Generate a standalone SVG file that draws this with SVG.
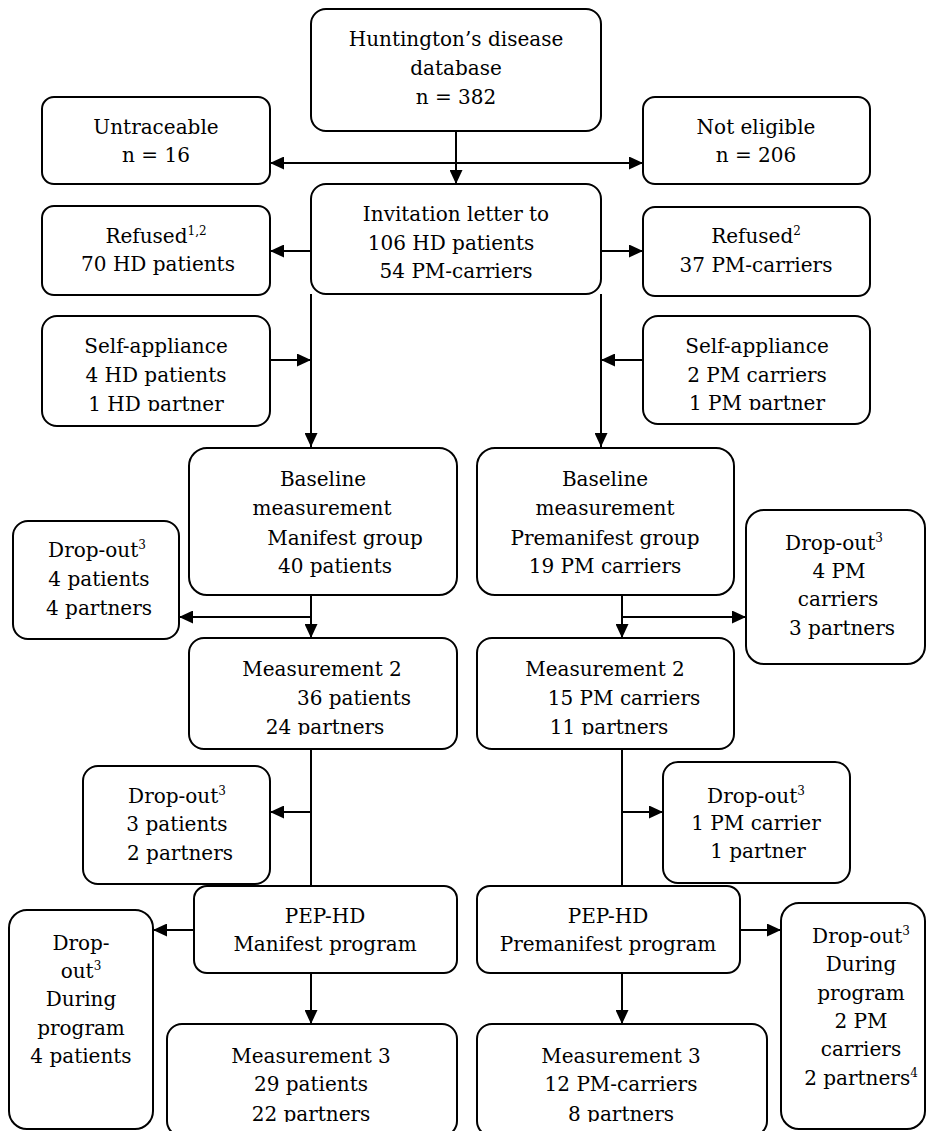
<svg xmlns="http://www.w3.org/2000/svg" width="926" height="1131" viewBox="0 0 926 1131">
<style>
.box{fill:#fff;stroke:#000;stroke-width:2}
.t{font-family:'DejaVu Serif','Liberation Serif',serif;font-size:20px;text-anchor:middle;fill:#000}
.sup{font-size:12px}
.c{fill:none;stroke:#000;stroke-width:2}
</style>
<defs>
<marker id="ah" markerWidth="14" markerHeight="13" refX="14" refY="6.5" orient="auto" markerUnits="userSpaceOnUse"><path d="M0,0 L14,6.5 L0,13 z" fill="#000"/></marker>
<clipPath id="clipSA1"><rect x="0" y="0" width="926" height="411"/></clipPath>
<clipPath id="clipSA2"><rect x="0" y="0" width="926" height="410"/></clipPath>
<clipPath id="clipM2"><rect x="0" y="0" width="926" height="735"/></clipPath>
<clipPath id="clipM3"><rect x="0" y="0" width="926" height="1122"/></clipPath>
</defs>
<rect width="926" height="1131" fill="#fff"/>
<g id="connectors">
<path class="c" d="M456,131 V184" marker-end="url(#ah)"/>
<path class="c" d="M456,163 H270" marker-end="url(#ah)"/>
<path class="c" d="M456,163 H643" marker-end="url(#ah)"/>
<path class="c" d="M311,251 H270" marker-end="url(#ah)"/>
<path class="c" d="M601,251 H643" marker-end="url(#ah)"/>
<path class="c" d="M311,294 V447" marker-end="url(#ah)"/>
<path class="c" d="M270,360 H311" marker-end="url(#ah)"/>
<path class="c" d="M601,294 V447" marker-end="url(#ah)"/>
<path class="c" d="M643,360 H601" marker-end="url(#ah)"/>
<path class="c" d="M311,595 V638" marker-end="url(#ah)"/>
<path class="c" d="M311,617 H179" marker-end="url(#ah)"/>
<path class="c" d="M622,595 V638" marker-end="url(#ah)"/>
<path class="c" d="M622,617 H746" marker-end="url(#ah)"/>
<path class="c" d="M311,749 V886"/>
<path class="c" d="M311,812 H270" marker-end="url(#ah)"/>
<path class="c" d="M622,749 V886"/>
<path class="c" d="M622,812 H663" marker-end="url(#ah)"/>
<path class="c" d="M194,930 H153" marker-end="url(#ah)"/>
<path class="c" d="M740,930 H781" marker-end="url(#ah)"/>
<path class="c" d="M311,973 V1024" marker-end="url(#ah)"/>
<path class="c" d="M622,973 V1024" marker-end="url(#ah)"/>
</g>
<g id="n-database">
<rect class="box" x="311" y="9" width="290" height="122" rx="15"/>
<text class="t" x="456" y="46">Huntington’s disease</text>
<text class="t" x="456" y="75">database</text>
<text class="t" x="456" y="104">n = 382</text>
</g>
<g id="n-untraceable">
<rect class="box" x="42" y="97" width="228" height="87" rx="12"/>
<text class="t" x="156" y="134">Untraceable</text>
<text class="t" x="156" y="162">n = 16</text>
</g>
<g id="n-noteligible">
<rect class="box" x="643" y="97" width="227" height="87" rx="12"/>
<text class="t" x="756" y="134">Not eligible</text>
<text class="t" x="756" y="162">n = 206</text>
</g>
<g id="n-invitation">
<rect class="box" x="311" y="184" width="290" height="110" rx="15"/>
<text class="t" x="456" y="221">Invitation letter to</text>
<text class="t" x="451" y="250">106 HD patients</text>
<text class="t" x="456" y="278">54 PM-carriers</text>
</g>
<g id="n-refused-hd">
<rect class="box" x="42" y="206" width="228" height="89" rx="12"/>
<text class="t" x="156" y="243">Refused<tspan class="sup" dy="-8">1,2</tspan></text>
<text class="t" x="158" y="271">70 HD patients</text>
</g>
<g id="n-refused-pm">
<rect class="box" x="643" y="207" width="227" height="89" rx="12"/>
<text class="t" x="756" y="243">Refused<tspan class="sup" dy="-8">2</tspan></text>
<text class="t" x="756" y="272">37 PM-carriers</text>
</g>
<g id="n-self-hd">
<rect class="box" x="42" y="316" width="228" height="110" rx="15"/>
<g clip-path="url(#clipSA1)">
<text class="t" x="156" y="353">Self-appliance</text>
<text class="t" x="156" y="382">4 HD patients</text>
<text class="t" x="156" y="411">1 HD partner</text>
</g>
</g>
<g id="n-self-pm">
<rect class="box" x="643" y="316" width="227" height="108" rx="15"/>
<g clip-path="url(#clipSA2)">
<text class="t" x="757" y="353">Self-appliance</text>
<text class="t" x="757" y="382">2 PM carriers</text>
<text class="t" x="757" y="410">1 PM partner</text>
</g>
</g>
<g id="n-baseline-man">
<rect class="box" x="189" y="448" width="268" height="147" rx="18"/>
<text class="t" x="323" y="486">Baseline</text>
<text class="t" x="322" y="515">measurement</text>
<text class="t" x="345" y="545">Manifest group</text>
<text class="t" x="335" y="573">40 patients</text>
</g>
<g id="n-baseline-pre">
<rect class="box" x="477" y="448" width="257" height="147" rx="18"/>
<text class="t" x="605" y="486">Baseline</text>
<text class="t" x="605" y="515">measurement</text>
<text class="t" x="605" y="545">Premanifest group</text>
<text class="t" x="605" y="573">19 PM carriers</text>
</g>
<g id="n-dropout1-man">
<rect class="box" x="13" y="521" width="166" height="118" rx="15"/>
<text class="t" x="97" y="557">Drop-out<tspan class="sup" dy="-8">3</tspan></text>
<text class="t" x="99" y="586">4 patients</text>
<text class="t" x="99" y="615">4 partners</text>
</g>
<g id="n-dropout1-pre">
<rect class="box" x="746" y="510" width="179" height="154" rx="18"/>
<text class="t" x="834" y="550">Drop-out<tspan class="sup" dy="-8">3</tspan></text>
<text class="t" x="839" y="578">4 PM</text>
<text class="t" x="838" y="606">carriers</text>
<text class="t" x="842" y="635">3 partners</text>
</g>
<g id="n-m2-man">
<rect class="box" x="189" y="638" width="268" height="111" rx="15"/>
<g clip-path="url(#clipM2)">
<text class="t" x="322" y="676">Measurement 2</text>
<text class="t" x="354" y="705">36 patients</text>
<text class="t" x="325" y="734">24 partners</text>
</g>
</g>
<g id="n-m2-pre">
<rect class="box" x="477" y="638" width="257" height="111" rx="15"/>
<g clip-path="url(#clipM2)">
<text class="t" x="605" y="676">Measurement 2</text>
<text class="t" x="624" y="705">15 PM carriers</text>
<text class="t" x="609" y="734">11 partners</text>
</g>
</g>
<g id="n-dropout2-man">
<rect class="box" x="83" y="766" width="187" height="118" rx="15"/>
<text class="t" x="177" y="803">Drop-out<tspan class="sup" dy="-8">3</tspan></text>
<text class="t" x="177" y="831">3 patients</text>
<text class="t" x="180" y="860">2 partners</text>
</g>
<g id="n-dropout2-pre">
<rect class="box" x="663" y="762" width="187" height="121" rx="15"/>
<text class="t" x="756" y="803">Drop-out<tspan class="sup" dy="-8">3</tspan></text>
<text class="t" x="756" y="830">1 PM carrier</text>
<text class="t" x="758" y="858">1 partner</text>
</g>
<g id="n-pep-man">
<rect class="box" x="194" y="886" width="263" height="87" rx="13"/>
<text class="t" x="325" y="923">PEP-HD</text>
<text class="t" x="325" y="951">Manifest program</text>
</g>
<g id="n-pep-pre">
<rect class="box" x="477" y="886" width="263" height="87" rx="13"/>
<text class="t" x="608" y="923">PEP-HD</text>
<text class="t" x="608" y="951">Premanifest program</text>
</g>
<g id="n-dropout3-man">
<rect class="box" x="9" y="910" width="144" height="219" rx="18"/>
<text class="t" x="81" y="950">Drop-</text>
<text class="t" x="81" y="978">out<tspan class="sup" dy="-8">3</tspan></text>
<text class="t" x="81" y="1006">During</text>
<text class="t" x="81" y="1035">program</text>
<text class="t" x="81" y="1063">4 patients</text>
</g>
<g id="n-dropout3-pre">
<rect class="box" x="781" y="903" width="144" height="226" rx="18"/>
<text class="t" x="861" y="943">Drop-out<tspan class="sup" dy="-8">3</tspan></text>
<text class="t" x="861" y="971">During</text>
<text class="t" x="861" y="1000">program</text>
<text class="t" x="861" y="1028">2 PM</text>
<text class="t" x="861" y="1056">carriers</text>
<text class="t" x="861" y="1085">2 partners<tspan class="sup" dy="-8">4</tspan></text>
</g>
<g id="n-m3-man">
<rect class="box" x="167" y="1024" width="290" height="112" rx="15"/>
<g clip-path="url(#clipM3)">
<text class="t" x="311" y="1063">Measurement 3</text>
<text class="t" x="311" y="1091">29 patients</text>
<text class="t" x="311" y="1121">22 partners</text>
</g>
</g>
<g id="n-m3-pre">
<rect class="box" x="477" y="1024" width="290" height="112" rx="15"/>
<g clip-path="url(#clipM3)">
<text class="t" x="621" y="1063">Measurement 3</text>
<text class="t" x="621" y="1091">12 PM-carriers</text>
<text class="t" x="621" y="1121">8 partners</text>
</g>
</g>
</svg>
